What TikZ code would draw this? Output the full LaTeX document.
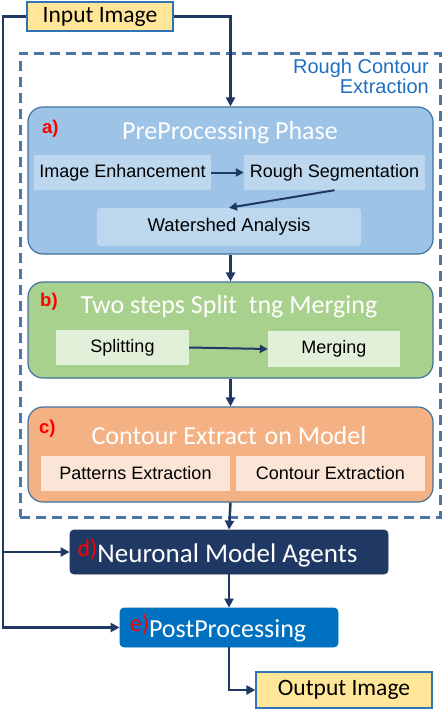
\documentclass[tikz,border=0pt]{standalone}
\usepackage{fontspec}
\setmainfont{Carlito}
\newfontfamily\arialfont{Liberation Sans}
\usetikzlibrary{arrows.meta,calc}
\definecolor{navyline}{HTML}{1F3864}
\definecolor{dashblue}{HTML}{4A76A8}
\definecolor{roughblue}{HTML}{1F6FC0}
\definecolor{phaseborder}{HTML}{41719C}
\definecolor{tagred}{HTML}{FF0000}
\definecolor{imgfill}{HTML}{FFE699}
\definecolor{imgborder}{HTML}{2E75B6}
\definecolor{prefill}{HTML}{9DC3E6}
\definecolor{preinner}{HTML}{BDD7EE}
\definecolor{splitfill}{HTML}{A9D18E}
\definecolor{splitinner}{HTML}{E2F0D9}
\definecolor{contfill}{HTML}{F4B183}
\definecolor{continner}{HTML}{FBE5D6}
\definecolor{agentfill}{HTML}{203864}
\definecolor{postfill}{HTML}{0070C0}

\begin{document}
\begin{tikzpicture}[x=1pt, y=-1pt,
    phase/.style={rectangle, draw=phaseborder, line width=1.2pt, rounded corners=15pt,
                  minimum width=405pt},
    inbox/.style={rectangle, minimum height=35pt, inner sep=0pt,
                  font=\arialfont\fontsize{18}{20}\selectfont},
    title/.style={anchor=base, text=white, inner sep=0pt, font=\fontsize{26}{28}\selectfont},
    tag/.style={anchor=base west, text=tagred, inner sep=0pt,
                font=\arialfont\bfseries\fontsize{18.5}{20}\selectfont},
    imgbox/.style={rectangle, draw=imgborder, fill=imgfill, line width=1.2pt, inner sep=0pt,
                   font=\fontsize{23.5}{25}\selectfont},
    solid box/.style={rectangle, draw=phaseborder, line width=0.8pt, rounded corners=4pt},
    arr/.style={-{Triangle[length=9pt,width=9pt]}, line width=2.5pt, navyline},
    thin arr/.style={-{Triangle[length=8pt,width=8pt]}, line width=2pt, navyline}
]
    \useasboundingbox (0,0) rectangle (444,710);

    % input and rough contour frame
    \node[imgbox, minimum width=146pt, minimum height=29pt] (input) at (100,16.5) {Input Image};
    \node[draw=dashblue, line width=3pt, dash pattern=on 10pt off 6pt,
          minimum width=420pt, minimum height=464pt] (rough) at (230,285) {};
    \node[anchor=north east, align=right, text=roughblue, inner sep=0pt,
          font=\arialfont\fontsize{20}{19.5}\selectfont] (roughlbl) at (429,59) {Rough Contour\\Extraction};

    % a) preprocessing
    \node[phase, fill=prefill, minimum height=147pt] (pre) at (230.5,180.5) {};
    \node[title] (preT) at (230,139) {PreProcessing Phase};
    \node[tag] (tagA) at (42,133) {a)};
    \node[inbox, fill=preinner, minimum width=177pt] (enh) at (122.5,172.5) {Image Enhancement};
    \node[inbox, fill=preinner, minimum width=181pt] (seg) at (334.5,172.5) {Rough Segmentation};
    \node[inbox, fill=preinner, rounded corners=3pt, minimum width=264pt, minimum height=38pt,
          font=\arialfont\fontsize{18.5}{20}\selectfont] (wat) at (229,227) {Watershed Analysis};
    \draw[thin arr] (enh.east) -- (seg.west);
    \draw[thin arr] (seg.south) -- (wat.north);

    % b) split and merge
    \node[phase, fill=splitfill, minimum height=96pt] (split) at (230.5,330) {};
    \node[title] (splitT) at (229,313) {Two steps Split\hspace{0.45em}tng Merging};
    \node[tag] (tagB) at (40,306) {b)};
    \node[inbox, fill=splitinner, minimum width=133pt] (spl) at (122.5,347.5) {Splitting};
    \node[inbox, fill=splitinner, minimum width=132pt, minimum height=36pt] (mrg) at (334,349) {Merging};
    \draw[thin arr] (spl.east) -- (mrg.west);

    % c) contour extraction
    \node[phase, fill=contfill, minimum height=95pt] (cont) at (230.5,454.5) {};
    \node[title] (contT) at (229,444) {Contour Extract\hspace{0.3em}on Model};
    \node[tag] (tagC) at (39,433) {c)};
    \node[inbox, fill=continner, minimum width=189pt] (pat) at (135.5,473.5) {Patterns Extraction};
    \node[inbox, fill=continner, minimum width=189pt] (cex) at (330.5,473.5) {Contour Extraction};

    % d) and e)
    \node[solid box, draw=agentfill, fill=agentfill, minimum width=318pt, minimum height=44pt] (agents) at (229,552) {};
    \node[title, font=\fontsize{27}{28}\selectfont] (agentsT) at (217.5,562)
        {\textcolor{tagred}{\raisebox{6pt}{\fontsize{24}{24}\selectfont d)}}Neuronal Model Agents};
    \node[solid box, draw=postfill, fill=postfill, minimum width=218pt, minimum height=39pt] (post) at (229,627.5) {};
    \node[title] (postT) at (218,637)
        {\textcolor{tagred}{\raisebox{6pt}{\fontsize{24}{24}\selectfont e)}}PostProcessing};
    \node[imgbox, minimum width=176pt, minimum height=36pt] (output) at (344,690) {Output Image};

    % connectors
    \coordinate (lft) at (3,16.5);
    \draw[arr] (input.east) -| (pre.north);
    \draw[arr] (input.west) -- (lft) |- (post.west);
    \draw[arr] (lft |- agents.west) -- (agents.west);
    \draw[arr] (pre.south) -- (split.north);
    \draw[arr] (split.south) -- (cont.north);
    \draw[arr] (cont.south) -- (agents.north);
    \draw[arr] (agents.south) -- (post.north);
    \draw[arr] (post.south) |- (output.west);
\end{tikzpicture}
\end{document}
